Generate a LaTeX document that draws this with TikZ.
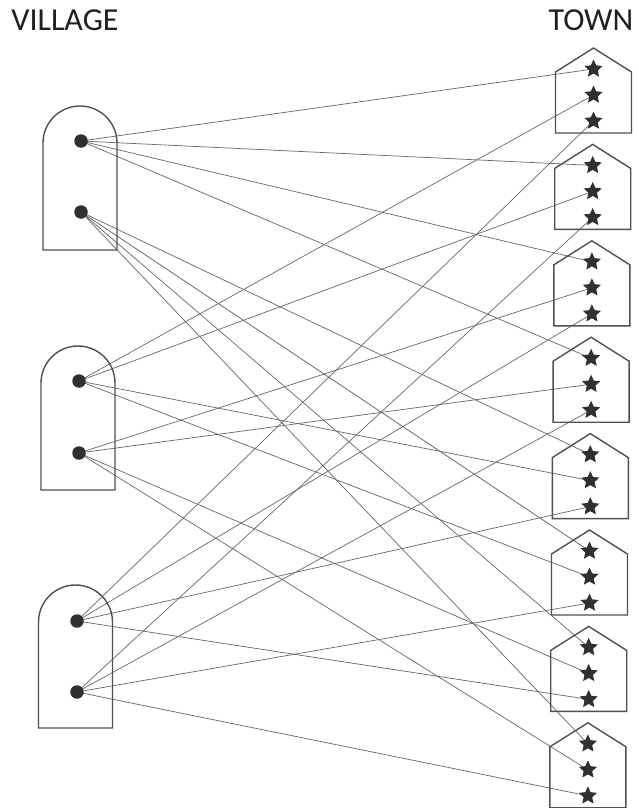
\documentclass[tikz,border=0pt]{standalone}
\usepackage{fontspec}
\newfontfamily\labelfont{Carlito}
\usetikzlibrary{shapes.geometric,backgrounds}
\definecolor{ink}{HTML}{303030}
\definecolor{outline}{HTML}{505050}
\definecolor{wirecol}{HTML}{666666}
\tikzset{
  dot/.style={circle,fill=ink,inner sep=0pt,minimum size=13.5pt},
  townstar/.style={star,star points=5,star point ratio=2.1,fill=ink,inner sep=0pt,minimum size=19pt},
  shell/.style={draw=outline,line width=1.4pt},
  wire/.style={draw=wirecol,line width=0.7pt},
  title/.style={font=\labelfont\fontsize{32}{32}\selectfont,text=black!88,inner sep=0pt},
}
\begin{document}
\begin{tikzpicture}[x=1pt,y=-1pt]
\useasboundingbox (0,0) rectangle (639,808);

% headings
\node[title] (village) at (65,20) {VILLAGE};
\node[title] (town) at (591,20) {TOWN};

% village outlines: rectangle with a round top
\foreach \cx/\cy/\by in {80/143/250, 78/383/490, 75.5/622/728}
  \draw[shell] (\cx-37,\by) -- (\cx-37,\cy) arc[start angle=180,end angle=0,radius=37pt] -- (\cx+37,\by) -- cycle;

% village dots
\node[dot] (a1) at (81,141) {};
\node[dot] (a2) at (81,212) {};
\node[dot] (b1) at (79,381) {};
\node[dot] (b2) at (79,453) {};
\node[dot] (c1) at (77,621) {};
\node[dot] (c2) at (77,692) {};

% town houses, three stars each
\foreach \k in {0,...,7}{
  \pgfmathsetmacro\ay{48+96.4*\k}
  \pgfmathsetmacro\cx{593.5-0.8*\k}
  \draw[shell] (\cx-38,\ay+24) -- (\cx,\ay) -- (\cx+38,\ay+24) -- (\cx+38,\ay+85) -- (\cx-38,\ay+85) -- cycle;
  \foreach \j/\dy in {1/21,2/47,3/73}{
    \pgfmathtruncatemacro\n{3*\k+\j}
    \node[townstar] (s\n) at (\cx,\ay+\dy) {};
  }
}

% links from villages to towns
\begin{scope}[on background layer]
  \fill[white] (0,0) rectangle (639,808);
  \foreach \v/\list in {a1/{1,4,7,10}, a2/{13,16,19,22}, b1/{2,5,14,17},
                        b2/{8,11,20,23}, c1/{3,9,15,21}, c2/{6,12,18,24}}
    \foreach \t in \list
      \draw[wire] (\v.center) -- (s\t.center);
\end{scope}
\end{tikzpicture}
\end{document}
